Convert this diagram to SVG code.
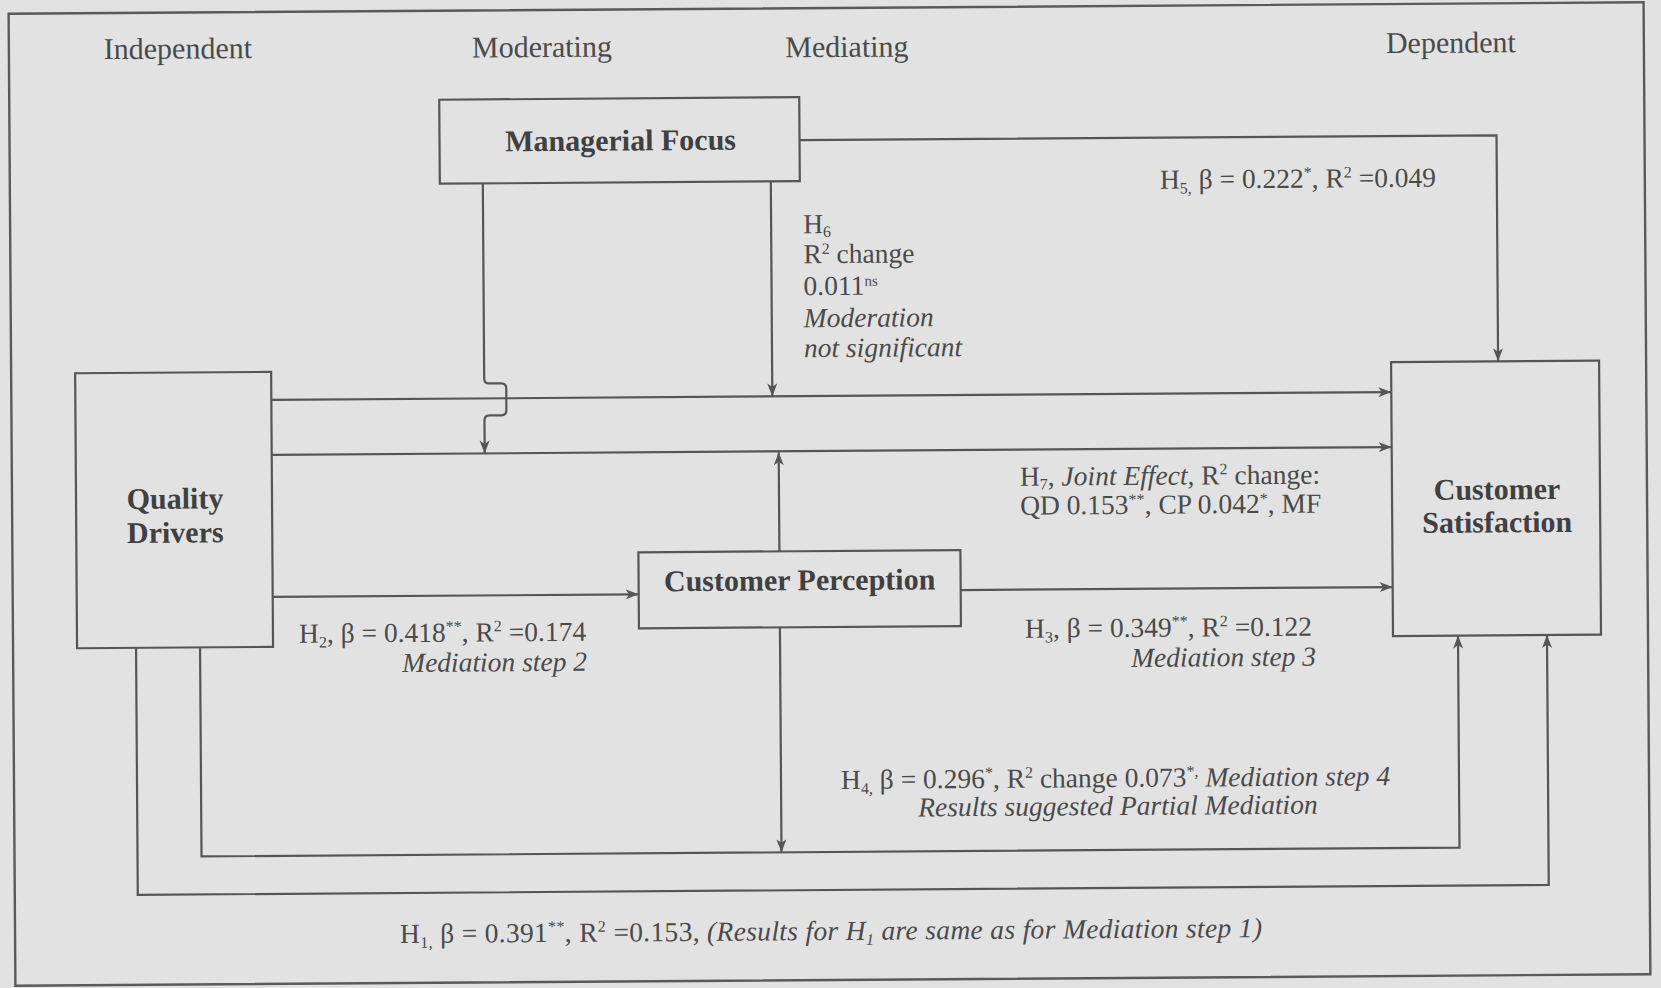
<svg xmlns="http://www.w3.org/2000/svg" width="1661" height="988" viewBox="0 0 1661 988">
  <defs>
    <style>
      .txt { font-family: "Liberation Serif", "Times New Roman", serif; fill: #4a4a4a; }
      .hdr { font-size: 30px; }
      .node { font-size: 30px; font-weight: bold; fill: #404040; }
      .lbl { font-size: 27.5px; }
      .it { font-style: italic; }
      .sm { font-size: 16px; }
      .box { fill: none; stroke: #555; stroke-width: 2.2; }
      .conn { fill: none; stroke: #555; stroke-width: 2.2; }
      .arr { marker-end: url(#head); }
    </style>
    <marker id="head" markerUnits="userSpaceOnUse" markerWidth="16" markerHeight="12" refX="13" refY="5" orient="auto">
      <path d="M0,0 L13,5 L0,10 L3.5,5 Z" fill="#555"/>
    </marker>
  </defs>

  <!-- paper -->
  <rect x="0" y="0" width="1661" height="988" fill="#e2e2e2"/>

  <g transform="rotate(-0.4 830 494)">
    <!-- outer frame -->
    <rect x="12" y="8" width="1635" height="972" fill="none" stroke="#5a5a5a" stroke-width="2.4"/>

    <!-- column headings -->
    <g id="headings" class="txt hdr" text-anchor="middle">
      <text x="181" y="54">Independent</text>
      <text x="545" y="55">Moderating</text>
      <text x="850" y="57">Mediating</text>
      <text x="1454" y="57">Dependent</text>
    </g>

    <!-- connectors -->
    <g id="connectors">
      <path class="conn arr" d="M802,140 H1499 V366"/>
      <path class="conn arr" d="M272,396 H1392"/>
      <path class="conn arr" d="M272,451 H1392"/>
      <path class="conn arr" d="M485,181 V376 Q485,381 490,381 H502 Q507,381 507,386 V408 Q507,413 502,413 H490 Q485,413 485,418 V451"/>
      <path class="conn arr" d="M773,181 V396"/>
      <path class="conn arr" d="M779,551 V452"/>
      <path class="conn arr" d="M779,627 V852"/>
      <path class="conn arr" d="M199,643 V852 H1457 V640"/>
      <path class="conn arr" d="M135,643 V890 H1546 V640"/>
      <path class="conn arr" d="M272,593 H638"/>
      <path class="conn arr" d="M960,591 H1392"/>
    </g>

    <!-- nodes -->
    <g id="managerial-focus">
      <rect class="box" x="442" y="97" width="360" height="84"/>
      <text class="txt node" x="623" y="149" text-anchor="middle">Managerial Focus</text>
    </g>
    <g id="quality-drivers">
      <rect class="box" x="76" y="368" width="196" height="275"/>
      <text class="txt node" x="175" y="504" text-anchor="middle">Quality</text>
      <text class="txt node" x="175" y="538" text-anchor="middle">Drivers</text>
    </g>
    <g id="customer-perception">
      <rect class="box" x="638" y="551" width="322" height="76"/>
      <text class="txt node" x="799" y="590" text-anchor="middle">Customer Perception</text>
    </g>
    <g id="customer-satisfaction">
      <rect class="box" x="1392" y="366" width="208" height="274"/>
      <text class="txt node" x="1497" y="504" text-anchor="middle">Customer</text>
      <text class="txt node" x="1497" y="537" text-anchor="middle">Satisfaction</text>
    </g>

    <!-- path labels -->
    <g id="labels" class="txt lbl">
      <text x="1162" y="191">H<tspan dy="5" class="sm">5,</tspan><tspan dy="-5"> β = 0.222</tspan><tspan dy="-10" class="sm">*</tspan><tspan dy="10">, R</tspan><tspan dy="-10" class="sm">2</tspan><tspan dy="10"> =0.049</tspan></text>

      <text x="805" y="233">H<tspan dy="4" class="sm">6</tspan></text>
      <text x="805" y="263">R<tspan dy="-9" class="sm">2</tspan><tspan dy="9"> change</tspan></text>
      <text x="805" y="295">0.011<tspan dy="-9" font-size="15">ns</tspan></text>
      <text x="805" y="327" class="it">Moderation</text>
      <text x="805" y="357" class="it">not significant</text>

      <text x="1020" y="487">H<tspan dy="4" class="sm">7</tspan><tspan dy="-4">, </tspan><tspan class="it">Joint Effect,</tspan> R<tspan dy="-10" class="sm">2</tspan><tspan dy="10"> change:</tspan></text>
      <text x="1020" y="516">QD 0.153<tspan dy="-9" class="sm">**</tspan><tspan dy="9">, CP 0.042</tspan><tspan dy="-9" class="sm">*</tspan><tspan dy="9">, MF</tspan></text>

      <text x="298" y="639">H<tspan dy="5" class="sm">2</tspan><tspan dy="-5">, β = 0.418</tspan><tspan dy="-10" class="sm">**</tspan><tspan dy="10">, R</tspan><tspan dy="-10" class="sm">2</tspan><tspan dy="10"> =0.174</tspan></text>
      <text x="401" y="669" class="it">Mediation step 2</text>

      <text x="1024" y="639">H<tspan dy="5" class="sm">3</tspan><tspan dy="-5">, β = 0.349</tspan><tspan dy="-10" class="sm">**</tspan><tspan dy="10">, R</tspan><tspan dy="-10" class="sm">2</tspan><tspan dy="10"> =0.122</tspan></text>
      <text x="1130" y="669" class="it">Mediation step 3</text>

      <text x="839" y="789">H<tspan dy="5" class="sm">4,</tspan><tspan dy="-5"> β = 0.296</tspan><tspan dy="-10" class="sm">*</tspan><tspan dy="10">, R</tspan><tspan dy="-10" class="sm">2</tspan><tspan dy="10"> change 0.073</tspan><tspan dy="-10" class="sm">*,</tspan><tspan dy="10" class="it"> Mediation step 4</tspan></text>
      <text x="916" y="817" class="it">Results suggested Partial Mediation</text>

      <text x="397" y="940" textLength="862" lengthAdjust="spacing">H<tspan dy="5" class="sm">1,</tspan><tspan dy="-5"> β = 0.391</tspan><tspan dy="-10" class="sm">**</tspan><tspan dy="10">, R</tspan><tspan dy="-10" class="sm">2</tspan><tspan dy="10"> =0.153, </tspan><tspan class="it">(Results for H</tspan><tspan class="it sm" dy="5">1</tspan><tspan class="it" dy="-5"> are same as for Mediation step 1)</tspan></text>
    </g>
  </g>
</svg>
